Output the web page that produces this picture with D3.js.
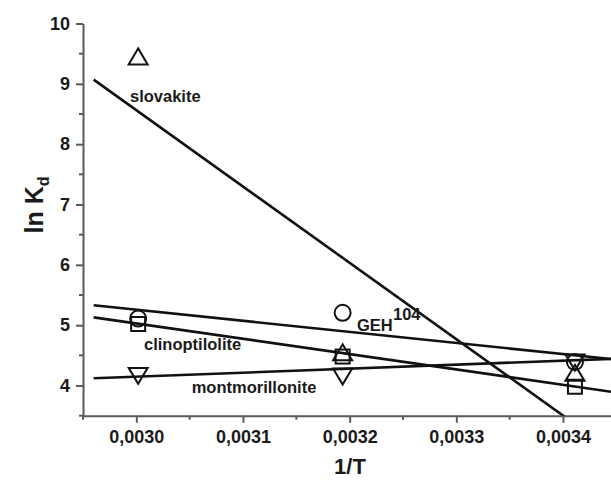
<!DOCTYPE html>
<html>
<head>
<meta charset="utf-8">
<script src="https://cdn.jsdelivr.net/npm/d3@7"></script>
<style>
  html, body { margin: 0; padding: 0; background: #fff; }
  svg { display: block; }
  text { font-family: "Liberation Sans", Arial, sans-serif; font-weight: bold; fill: #1a1a1a; }
</style>
</head>
<body>
<script>
// ---- data ----
const xValues = [0.0030017, 0.0031934, 0.0034112];          // 1/T
const slovakite = [9.455, 4.55, 4.21];                        // up triangles
const geh104 = [5.11, 5.205, 4.39];                           // circles
const clinoptilolite = [5.02, 4.48, 3.98];                    // squares
const montmorillonite = [4.16, 4.15, 4.38];                   // down triangles
const fitX = [0.00296, 0.00345];
const fitSlovakite = [9.07, 2.87];
const fitGeh104 = [5.33, 4.43];
const fitClinoptilolite = [5.13, 3.885];
const fitMontmorillonite = [4.12, 4.445];
const xTicks = [0.0030, 0.0031, 0.0032, 0.0033, 0.0034];
const xTickLabels = ["0,0030", "0,0031", "0,0032", "0,0033", "0,0034"];
const xMinorTicks = [0.00295, 0.00305, 0.00315, 0.00325, 0.00335];
const yTicks = [4, 5, 6, 7, 8, 9, 10];
const yTickLabels = ["4", "5", "6", "7", "8", "9", "10"];
const yMinorTicks = [3.5, 4.5, 5.5, 6.5, 7.5, 8.5, 9.5];

// ---- layout ----
const W = 611, H = 481;
const mLeft = 83, mRight = 611, mTop = 23.5, mBottom = 415.7;

const svg = d3.select("body").append("svg").attr("width", W).attr("height", H);

const x = d3.scaleLinear().domain([0.00295, 0.003445]).range([mLeft, mRight]);
const y = d3.scaleLinear().domain([3.5, 10]).range([mBottom, mTop]);

svg.append("clipPath").attr("id", "plotclip")
  .append("rect").attr("x", mLeft).attr("y", mTop).attr("width", mRight - mLeft).attr("height", mBottom - mTop);

// axes
const axisColor = "#5a5a5a";
const gx = svg.append("g").attr("transform", `translate(0,${mBottom})`);
gx.call(d3.axisBottom(x).tickValues(xTicks).tickFormat((d, i) => xTickLabels[i]).tickSize(7).tickSizeOuter(0).tickPadding(8));
gx.append("g").selectAll("line").data(xMinorTicks).join("line")
  .attr("x1", d => x(d)).attr("x2", d => x(d)).attr("y1", 0).attr("y2", 4)
  .attr("stroke", axisColor).attr("stroke-width", 2);

const gy = svg.append("g").attr("transform", `translate(${mLeft},0)`);
gy.call(d3.axisLeft(y).tickValues(yTicks).tickFormat((d, i) => yTickLabels[i]).tickSize(7).tickSizeOuter(0).tickPadding(6));
gy.append("g").selectAll("line").data(yMinorTicks).join("line")
  .attr("y1", d => y(d)).attr("y2", d => y(d)).attr("x1", 0).attr("x2", -4)
  .attr("stroke", axisColor).attr("stroke-width", 2);

[gx, gy].forEach(g => {
  g.select(".domain").attr("stroke", axisColor).attr("stroke-width", 2);
  g.selectAll(".tick line").attr("stroke", axisColor).attr("stroke-width", 2);
  g.selectAll(".tick text").style("font-size", "18px").style("font-weight", "bold")
    .style("font-family", '"Liberation Sans", Arial, sans-serif').attr("fill", "#1a1a1a");
});

// fit lines
const line = d3.line().x(d => x(d[0])).y(d => y(d[1]));
const fits = [fitSlovakite, fitGeh104, fitClinoptilolite, fitMontmorillonite];
svg.append("g").attr("clip-path", "url(#plotclip)")
  .selectAll("path").data(fits).join("path")
  .attr("d", f => line(fitX.map((xv, i) => [xv, f[i]])))
  .attr("fill", "none").attr("stroke", "#111").attr("stroke-width", 2.6);

// markers
const mk = svg.append("g").attr("fill", "none").attr("stroke", "#111").attr("stroke-width", 2);
const triW = 19, triH = 16, sq = 14, rad = 8;
function triUp(cx, cy) { return `M${cx},${cy - triH/2}L${cx + triW/2},${cy + triH/2}L${cx - triW/2},${cy + triH/2}Z`; }
function triDown(cx, cy) { return `M${cx - triW/2},${cy - triH/2}L${cx + triW/2},${cy - triH/2}L${cx},${cy + triH/2}Z`; }

mk.selectAll("rect.sq").data(clinoptilolite).join("rect").attr("class", "sq")
  .attr("x", (d, i) => x(xValues[i]) - sq/2).attr("y", d => y(d) - sq/2)
  .attr("width", sq).attr("height", sq);
mk.selectAll("circle").data(geh104).join("circle")
  .attr("cx", (d, i) => x(xValues[i])).attr("cy", d => y(d)).attr("r", rad);
mk.selectAll("path.up").data(slovakite).join("path").attr("class", "up")
  .attr("d", (d, i) => triUp(x(xValues[i]), y(d)));
mk.selectAll("path.down").data(montmorillonite).join("path").attr("class", "down")
  .attr("d", (d, i) => triDown(x(xValues[i]), y(d)));

// annotations
const ann = svg.append("g").style("font-size", "16.5px");
ann.append("text").attr("x", 130).attr("y", 101.7).text("slovakite");
ann.append("text").attr("x", 144).attr("y", 350).text("clinoptilolite");
ann.append("text").attr("x", 191.7).attr("y", 393.3).text("montmorillonite");
ann.append("text").attr("x", 357).attr("y", 331).text("GEH");
ann.append("text").attr("x", 393).attr("y", 320).text("104");

// axis titles
svg.append("text").attr("x", 350).attr("y", 474).attr("text-anchor", "middle")
  .style("font-size", "22px").text("1/T");
const yt = svg.append("text").attr("transform", "translate(43,205) rotate(-90)")
  .attr("text-anchor", "middle").style("font-size", "25px");
yt.append("tspan").text("ln K");
yt.append("tspan").attr("dy", 6).style("font-size", "16px").text("d");
</script>
</body>
</html>
